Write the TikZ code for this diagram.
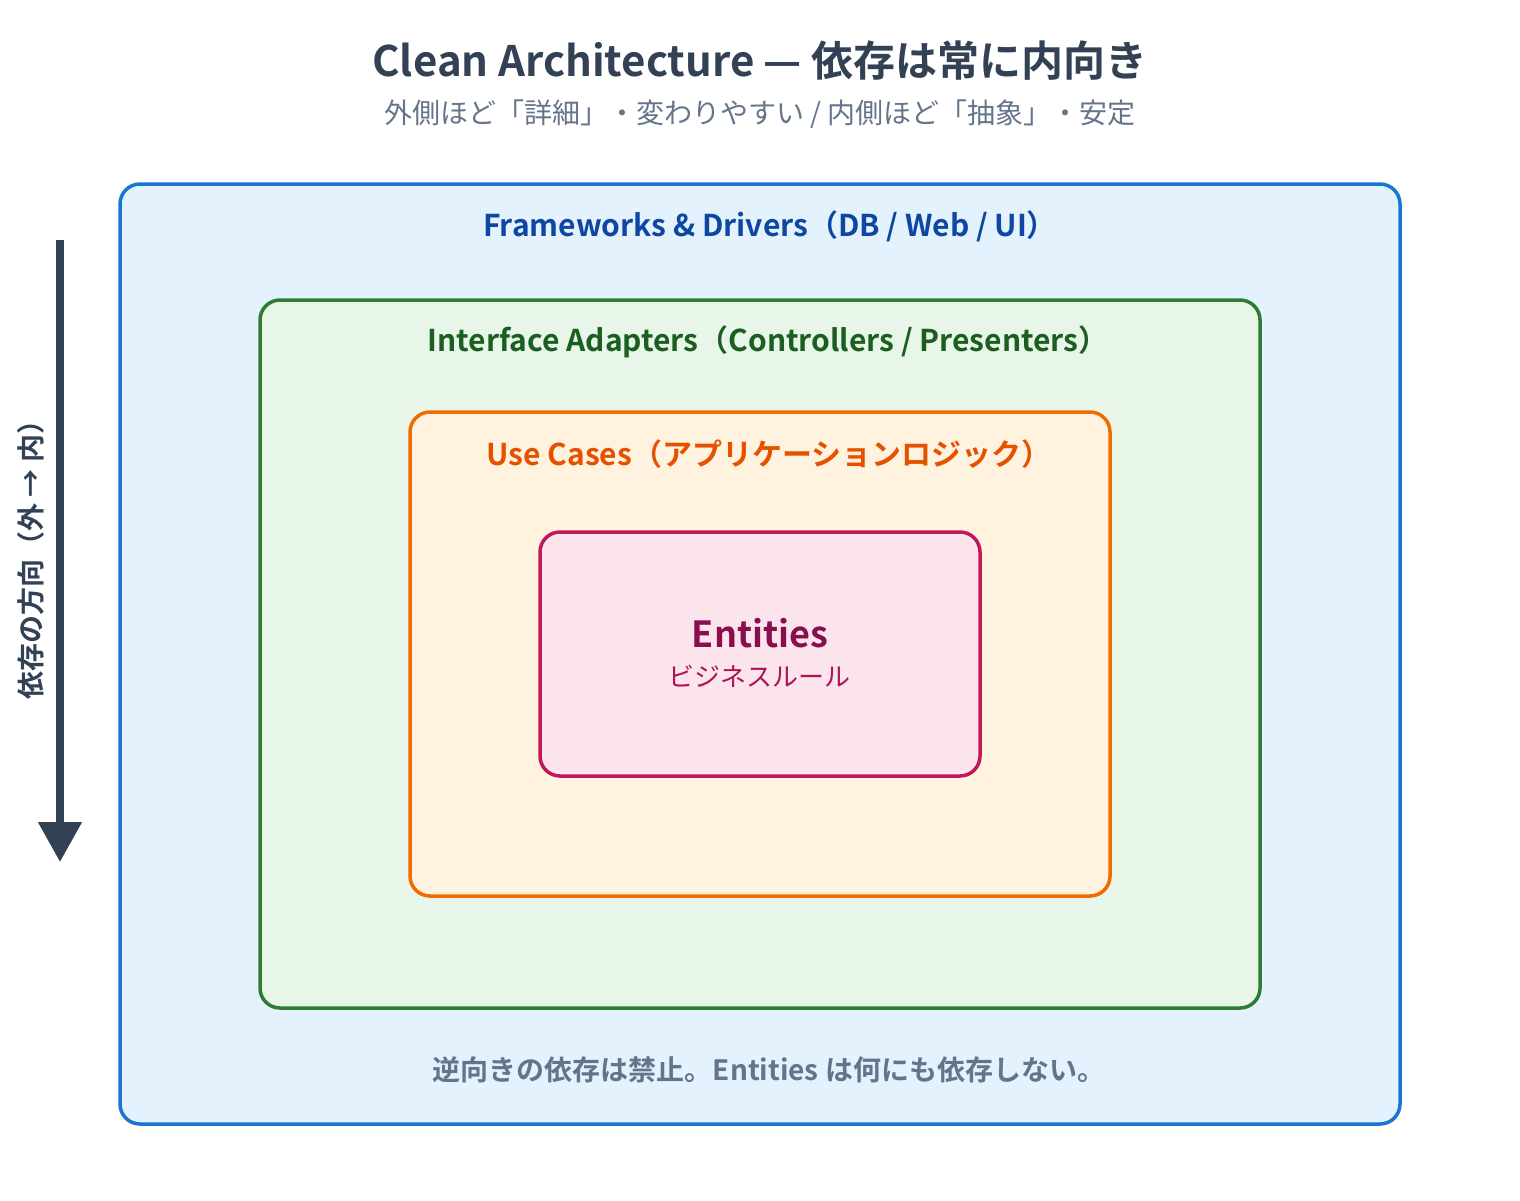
\documentclass[tikz,border=0pt]{standalone}
\usepackage{fontspec}
\setmainfont{Noto Sans CJK JP}[BoldFont={Noto Sans CJK JP Bold}]
\usetikzlibrary{arrows.meta}
\definecolor{slate}{HTML}{334155}
\definecolor{sub}{HTML}{64748B}
\definecolor{fwline}{HTML}{1976D2}
\definecolor{fwfill}{HTML}{E3F2FD}
\definecolor{fwtext}{HTML}{0D47A1}
\definecolor{iafill}{HTML}{E8F5E9}
\definecolor{ialine}{HTML}{2E7D32}
\definecolor{iatext}{HTML}{1B5E20}
\definecolor{ucfill}{HTML}{FFF3E0}
\definecolor{ucline}{HTML}{EF6C00}
\definecolor{uctext}{HTML}{E65100}
\definecolor{enfill}{HTML}{FCE4EC}
\definecolor{enline}{HTML}{C2185B}
\definecolor{entext}{HTML}{880E4F}
\definecolor{ensub}{HTML}{AD1457}
\tikzset{
  ring/.style={draw, line width=1.75pt, rounded corners=10pt, inner sep=0pt},
  lbl/.style={inner sep=0pt, font=\bfseries\fontsize{15pt}{18pt}\selectfont},
}
\begin{document}
\begin{tikzpicture}[x=0.5pt,y=-0.5pt]
\useasboundingbox (0,0) rectangle (1520,1200);
\node[inner sep=0pt, text=slate, font=\bfseries\fontsize{21pt}{25pt}\selectfont] (title) at (760,61) {Clean Architecture — 依存は常に内向き};
\node[inner sep=0pt, text=sub, font=\fontsize{14pt}{17pt}\selectfont] (subtitle) at (760,114) {外側ほど「詳細」・変わりやすい / 内側ほど「抽象」・安定};
\node[ring, draw=fwline, fill=fwfill, minimum width=640pt, minimum height=470pt] (fw) at (760,654) {};
\node[ring, draw=ialine, fill=iafill, minimum width=500pt, minimum height=354pt] (ia) at (760,654) {};
\node[ring, draw=ucline, fill=ucfill, minimum width=350pt, minimum height=242pt] (uc) at (760,654) {};
\node[ring, draw=enline, fill=enfill, minimum width=220pt, minimum height=122pt] (en) at (760,654) {};
\node[lbl, text=fwtext] (fwl) at (770,226) {Frameworks \& Drivers（DB / Web / UI）};
\node[lbl, text=iatext] (ial) at (768,342) {Interface Adapters（Controllers / Presenters）};
\node[lbl, text=uctext] (ucl) at (769,454) {Use Cases（アプリケーションロジック）};
\node[inner sep=0pt, text=entext, font=\bfseries\fontsize{18pt}{22pt}\selectfont] (enl) at (760,633) {Entities};
\node[inner sep=0pt, text=ensub, font=\fontsize{13pt}{16pt}\selectfont] (ens) at (759,676) {ビジネスルール};
\node[inner sep=0pt, text=sub, font=\bfseries\fontsize{14pt}{17pt}\selectfont] (note) at (769,1070) {逆向きの依存は禁止。Entities は何にも依存しない。};
\coordinate (a1) at (60,240);
\coordinate (a2) at (60,862);
\draw[slate, line width=4pt, -{Triangle[width=21pt,length=20pt]}] (a1) -- (a2);
\node[inner sep=0pt, rotate=90, text=slate, font=\bfseries\fontsize{14pt}{17pt}\selectfont] (dir) at (31,553) {依存の方向（外 → 内）};
\end{tikzpicture}
\end{document}
